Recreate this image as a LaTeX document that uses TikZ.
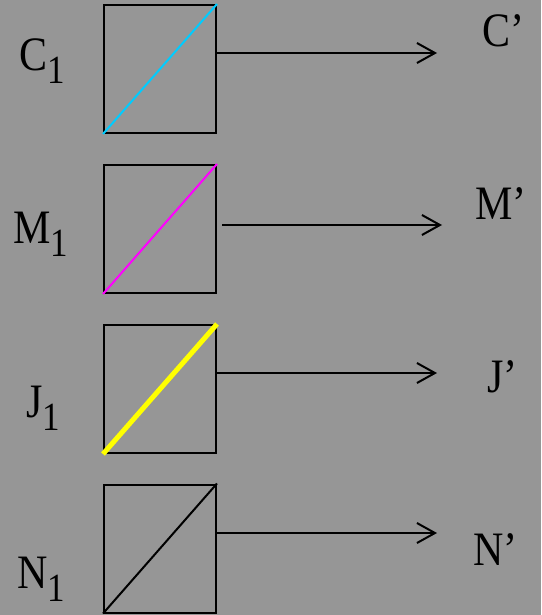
\documentclass[tikz,border=0pt]{standalone}
\usepackage{fontspec}
\setmainfont[FakeStretch=0.875]{Liberation Serif}
\usetikzlibrary{arrows.meta}
\definecolor{bggray}{RGB}{150,150,150}
\definecolor{cyanline}{RGB}{0,204,255}
\definecolor{magline}{RGB}{255,0,255}
\definecolor{yelline}{RGB}{255,255,0}
\newcommand{\subone}{{\fontsize{40}{40}\selectfont\raisebox{-13pt}{1}}}

\begin{document}
\begin{tikzpicture}[
			x=1pt,y=-1pt,
			>={Straight Barb[length=18pt,width=20pt]},
			filt/.style={draw,line width=2pt,minimum width=112pt,minimum height=128pt,inner sep=0pt},
			lbl/.style={font=\fontsize{48}{48}\selectfont,inner sep=0pt,anchor=base west},
			arr/.style={->,line width=2pt}
		]
		\fill[bggray] (0,0) rectangle (541,615);
		\useasboundingbox (0,0) rectangle (541,615);

		% filters
		\node[filt] (cbox) at (160,69) {};
		\node[filt] (mbox) at (160,229) {};
		\node[filt] (jbox) at (160,389) {};
		\node[filt] (nbox) at (160,548.5) {};

		\draw[cyanline,line width=2pt] (cbox.south west) -- (cbox.north east);
		\draw[magline,line width=2pt] (mbox.south west) -- (mbox.north east);
		\draw[yelline,line width=5pt] (jbox.south west) -- (jbox.north east);
		\draw[line width=2pt] (nbox.south west) -- (nbox.north east);

		% inputs
		\node[lbl] (c1) at (19,71) {C\subone};
		\node[lbl] (m1) at (13,243) {M\subone};
		\node[lbl] (j1) at (26,417) {J\subone};
		\node[lbl] (n1) at (17,588) {N\subone};

		% outputs
		\coordinate (cend) at (437,53);
		\coordinate (mend) at (442,225);
		\coordinate (jend) at (437,373);
		\coordinate (nend) at (437,533);

		\draw[arr] (cbox.east |- cend) -- (cend);
		\draw[arr] ([xshift=5pt]mbox.east |- mend) -- (mend);
		\draw[arr] (jbox.east |- jend) -- (jend);
		\draw[arr] (nbox.east |- nend) -- (nend);

		\node[lbl] (cout) at (482,47) {C'};
		\node[lbl] (mout) at (475,219) {M'};
		\node[lbl] (jout) at (487,392) {J'};
		\node[lbl] (nout) at (473,565) {N'};
	\end{tikzpicture}
\end{document}
